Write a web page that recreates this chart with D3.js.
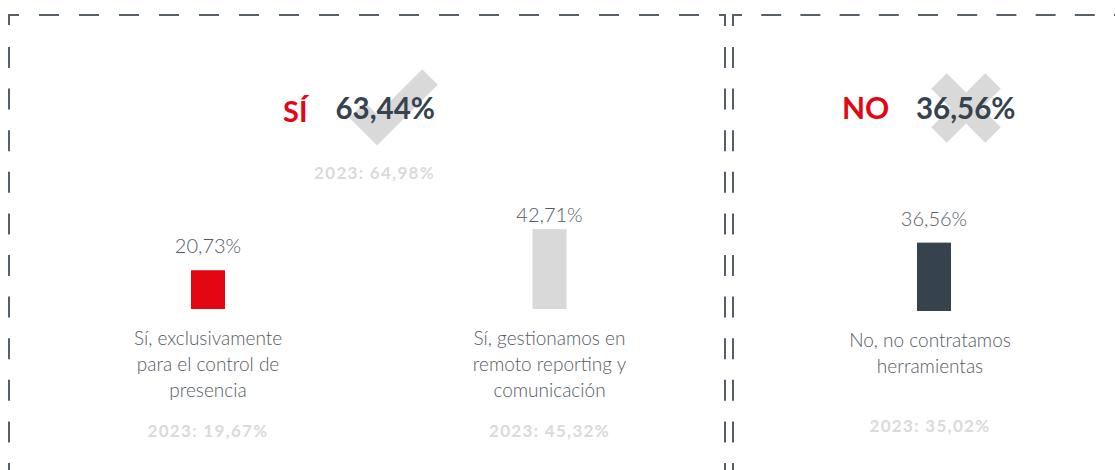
<!DOCTYPE html>
<html>
<head>
<meta charset="utf-8">
<script src="https://cdn.jsdelivr.net/npm/d3@7"></script>
<style>
  html, body { margin: 0; padding: 0; background: #fff; }
  svg { display: block; }
</style>
</head>
<body>
<svg id="chart" width="1115" height="470"></svg>
<script>
// data
const groups = ["SÍ", "NO"]
const groupTotals = [63.44, 36.56]
const groupTotals2023 = [64.98, null]
const categories = [
  "Sí, exclusivamente para el control de presencia",
  "Sí, gestionamos en remoto reporting y comunicación",
  "No, no contratamos herramientas"
]
const categoryLines = [
  ["Sí, exclusivamente", "para el control de", "presencia"],
  ["Sí, gestionamos en", "remoto reporting y", "comunicación"],
  ["No, no contratamos", "herramientas"]
]
const categoryGroup = ["SÍ", "SÍ", "NO"]
const values2024 = [20.73, 42.71, 36.56]
const values2023 = [19.67, 45.32, 35.02]

const colors = ["#e30613", "#d9d9d9", "#36434f"]
const red = "#e30613"
const navy = "#36434f"
const textGray = "#545b65"
const lightGray = "#dadada"
const dashColor = "#56606b"

const locale = d3.formatLocale({decimal: ",", thousands: ".", grouping: [3], currency: ["", "€"]})
const pct = v => locale.format(".2f")(v) + "%"

const svg = d3.select("#chart")

// dashed panel frames
const frame = svg.append("g").attr("fill", "none").attr("stroke", dashColor).attr("stroke-width", 2)

frame.append("path")
  .attr("d", "M9,25V15H725V26")
  .attr("stroke-dasharray", "20,20")
frame.append("path")
  .attr("d", "M733,26V15H1130")
  .attr("stroke-dasharray", "20,19.2")

;[9, 725, 733].forEach(x => {
  frame.append("line")
    .attr("x1", x).attr("x2", x)
    .attr("y1", 47).attr("y2", 480)
    .attr("stroke-dasharray", "21,20.6")
})

// scales
const y = d3.scaleLinear().domain([0, 100]).range([0, 187])

const xLeft = d3.scalePoint()
  .domain(categories.slice(0, 2))
  .range([208, 549.5])
const xRight = d3.scalePoint()
  .domain(categories.slice(2))
  .range([934, 934])
const x = c => categories.indexOf(c) < 2 ? xLeft(c) : xRight(c)
const baseY = c => categories.indexOf(c) < 2 ? 309 : 311

const barW = 34

const data = categories.map((c, i) => ({
  cat: c, lines: categoryLines[i], group: categoryGroup[i],
  v: values2024[i], v23: values2023[i], color: colors[i]
}))

// header icons
const icons = svg.append("g").attr("fill", "none").attr("stroke", "#d9d9d9")
  .attr("stroke-width", 22).attr("stroke-linejoin", "miter")

icons.append("path")
  .attr("d", d3.line()([[357, 110], [377, 130], [430, 77]]))

icons.append("path").attr("d", d3.line()([[939, 81], [993, 135]]))
icons.append("path").attr("d", d3.line()([[993, 81], [939, 135]]))

// headers
const head = svg.append("g").attr("font-family", "Lato, sans-serif").attr("font-weight", 700)

head.append("text")
  .attr("x", 283).attr("y", 122)
  .attr("font-size", 29).attr("fill", red)
  .text(groups[0])
head.append("text")
  .attr("x", 435).attr("y", 119).attr("text-anchor", "end")
  .attr("font-size", 29.5).attr("fill", navy)
  .text(pct(groupTotals[0]))
head.append("text")
  .attr("x", 435).attr("y", 179).attr("text-anchor", "end")
  .attr("font-size", 17).attr("fill", lightGray).attr("letter-spacing", 1.3)
  .text("2023: " + pct(groupTotals2023[0]))

head.append("text")
  .attr("x", 842).attr("y", 119)
  .attr("font-size", 30).attr("fill", red)
  .text(groups[1])
head.append("text")
  .attr("x", 916).attr("y", 119)
  .attr("font-size", 29.5).attr("fill", navy)
  .text(pct(groupTotals[1]))

// bars
svg.append("g")
  .selectAll("rect")
  .data(data)
  .join("rect")
  .attr("x", d => x(d.cat) - barW / 2)
  .attr("y", d => baseY(d.cat) - y(d.v))
  .attr("width", barW)
  .attr("height", d => y(d.v))
  .attr("fill", d => d.color)

// value labels
svg.append("g")
  .selectAll("text")
  .data(data)
  .join("text")
  .attr("x", d => x(d.cat))
  .attr("y", d => Math.max(baseY(d.cat) - y(d.v) - 17, 222))
  .attr("text-anchor", "middle")
  .attr("font-family", "Lato, sans-serif")
  .attr("font-weight", 300)
  .attr("font-size", 20)
  .attr("fill", textGray)
  .text(d => pct(d.v))

// category labels
const labels = svg.append("g")
  .selectAll("text")
  .data(data)
  .join("text")
  .attr("text-anchor", "middle")
  .attr("font-family", "Lato, sans-serif")
  .attr("font-weight", 300)
  .attr("font-size", 19)
  .attr("fill", textGray)

labels.selectAll("tspan")
  .data(d => d.lines.map(l => ({l, d})))
  .join("tspan")
  .attr("x", o => x(o.d.cat) + (o.d.group === "NO" ? -4 : 0))
  .attr("y", (o, i) => baseY(o.d.cat) + 36 + i * 26)
  .text(o => o.l)

// previous year
svg.append("g")
  .selectAll("text")
  .data(data)
  .join("text")
  .attr("x", d => x(d.cat) + (d.group === "NO" ? -4 : 0))
  .attr("y", d => d.group === "NO" ? 432 : 437)
  .attr("text-anchor", "middle")
  .attr("font-family", "Lato, sans-serif")
  .attr("font-weight", 700)
  .attr("font-size", 17)
  .attr("letter-spacing", 1.3)
  .attr("fill", lightGray)
  .text(d => "2023: " + pct(d.v23))
</script>
</body>
</html>
